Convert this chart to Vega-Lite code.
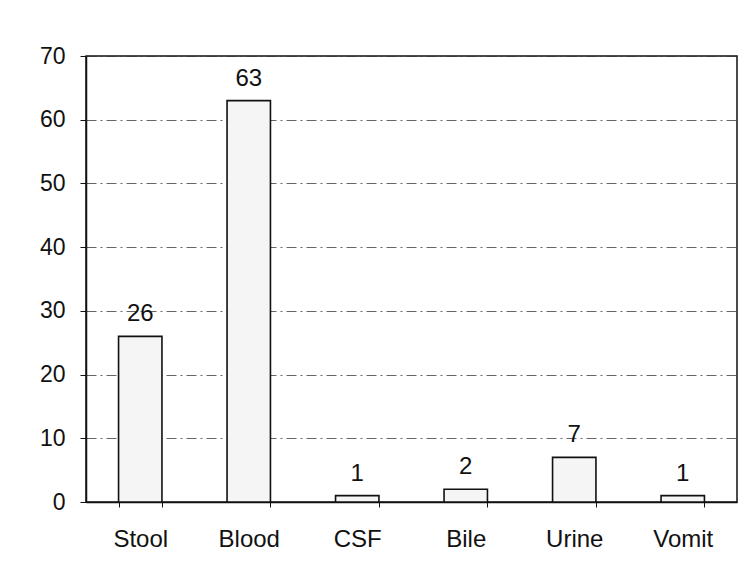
{
  "$schema": "https://vega.github.io/schema/vega-lite/v6.json",
  "width": 651,
  "height": 446,
  "autosize": {"type": "none"},
  "padding": {"left": 86, "top": 56, "right": 19, "bottom": 78},
  "background": "white",
  "data": {"values": [
    {"source": "Stool", "count": 26},
    {"source": "Blood", "count": 63},
    {"source": "CSF", "count": 1},
    {"source": "Bile", "count": 2},
    {"source": "Urine", "count": 7},
    {"source": "Vomit", "count": 1}
  ]},
  "config": {
    "view": {"stroke": "#111", "strokeWidth": 1.5},
    "font": "Liberation Sans",
    "axis": {"labelFont": "Liberation Sans", "labelColor": "#111", "domainColor": "#111", "tickColor": "#111"}
  },
  "layer": [
    {
      "mark": {"type": "bar", "fill": "#f5f5f5", "stroke": "#111", "strokeWidth": 1.6},
      "encoding": {
        "x": {"field": "source", "type": "nominal", "sort": null,
          "scale": {"paddingInner": 0.6, "paddingOuter": 0.3},
          "axis": {"title": null, "labelAngle": 0, "labelFontSize": 24, "tickBand": "extent", "tickSize": 5, "labelPadding": 20, "domainWidth": 1.5}},
        "y": {"field": "count", "type": "quantitative",
          "scale": {"domain": [0, 70], "nice": false},
          "axis": {"title": null, "values": [0,10,20,30,40,50,60,70], "labelFontSize": 23, "tickSize": 6, "labelPadding": 15,
            "gridColor": "#333", "gridDash": [10, 4, 2, 4], "gridWidth": 1, "gridOpacity": 0.75, "domainWidth": 1.5}}
      }
    },
    {
      "mark": {"type": "text", "fontSize": 24, "dy": -15, "baseline": "alphabetic", "color": "#111", "font": "Liberation Sans"},
      "encoding": {
        "x": {"field": "source", "type": "nominal", "sort": null},
        "y": {"field": "count", "type": "quantitative"},
        "text": {"field": "count", "type": "quantitative"}
      }
    }
  ]
}
